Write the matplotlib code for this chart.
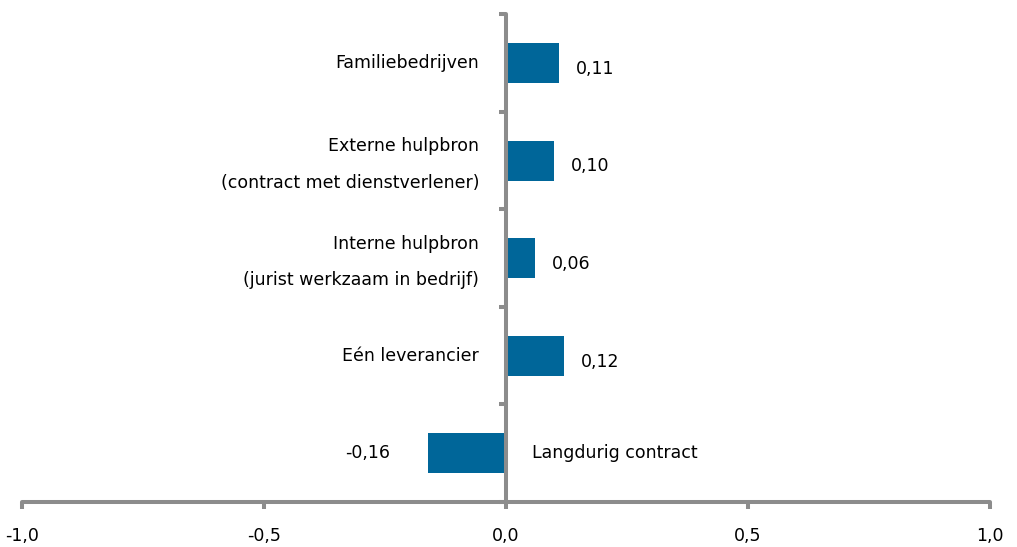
import matplotlib.pyplot as plt
from matplotlib.ticker import FuncFormatter

# categorieën van boven naar onder
categorieen = [
    "Familiebedrijven",
    "Externe hulpbron\n(contract met dienstverlener)",
    "Interne hulpbron\n(jurist werkzaam in bedrijf)",
    "Eén leverancier",
    "Langdurig contract",
]
waarden = [0.11, 0.10, 0.06, 0.12, -0.16]
xticks = [-1.0, -0.5, 0.0, 0.5, 1.0]

kleur_balk = "#006699"
kleur_as = "#8c8c8c"
fs = 12.5

fig = plt.figure(figsize=(10.17, 5.47), dpi=100)
ax = fig.add_axes([0.0213, 0.0823, 0.9522, 0.8917])

n = len(categorieen)
posities = [n - i - 0.5 for i in range(n)]
ax.barh(posities, waarden, height=0.41, color=kleur_balk, zorder=1)

ax.set_xlim(-1, 1)
ax.set_ylim(0, n)

for spine in ["top", "right"]:
    ax.spines[spine].set_visible(False)
ax.spines["left"].set_position(("data", 0))
for spine in ["left", "bottom"]:
    ax.spines[spine].set_color(kleur_as)
    ax.spines[spine].set_linewidth(2.9)
    ax.spines[spine].set_capstyle("round")
    ax.spines[spine].set_zorder(3)

ax.set_xticks(xticks)
ax.xaxis.set_major_formatter(FuncFormatter(lambda v, p: f"{v:.1f}".replace(".", ",")))
ax.set_yticks(range(n + 1))
ax.set_yticklabels([])
ax.tick_params(axis="both", color=kleur_as, width=2.9, length=5)
ax.tick_params(axis="x", pad=13, labelsize=fs)

for y, w, label in zip(posities, waarden, categorieen):
    tekst = f"{w:.2f}".replace(".", ",")
    # tweeregelige labels staan iets lager
    ly = y - 0.04 if "\n" in label else y
    if w >= 0:
        ax.text(-0.055, ly, label, ha="right", va="center", fontsize=fs, linespacing=2.35)
        ax.text(w + 0.035, y - 0.06, tekst, ha="left", va="center", fontsize=fs)
    else:
        ax.text(0.055, ly, label, ha="left", va="center", fontsize=fs, linespacing=2.35)
        ax.text(w - 0.08, y, tekst, ha="right", va="center", fontsize=fs)

fig.savefig("out.png")
